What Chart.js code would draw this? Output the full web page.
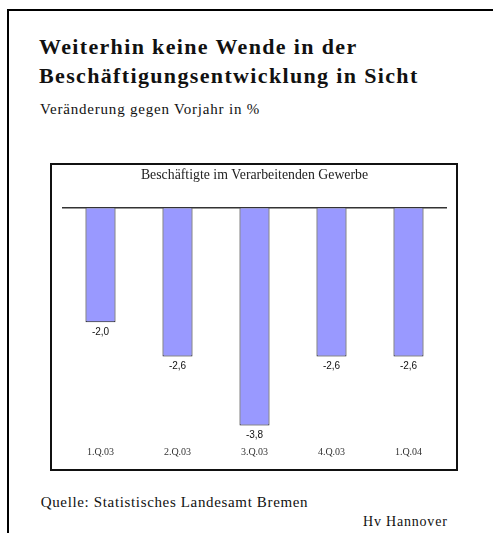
<!DOCTYPE html>
<html>
<head>
<meta charset="utf-8">
<script src="https://cdn.jsdelivr.net/npm/chart.js@4/dist/chart.umd.min.js"></script>
<style>
  html, body { margin: 0; padding: 0; background: #fff; }
  body { width: 494px; height: 533px; position: relative; overflow: hidden; font-family: 'Liberation Serif', 'Times New Roman', serif; color: #111; }
  .frame-top { position: absolute; left: 7px; top: 9px; width: 486px; height: 2px; background: #000; }
  .frame-left { position: absolute; left: 7px; top: 9px; width: 2px; height: 524px; background: #000; }
  .t { position: absolute; white-space: nowrap; }
  #title { left: 39px; top: 31.8px; font-size: 22px; font-weight: bold; line-height: 29.5px; letter-spacing: 1.35px; }
  #sub { left: 40px; top: 102.4px; font-size: 15px; line-height: 1; letter-spacing: 0.8px; }
  #src { left: 40.7px; top: 495.4px; font-size: 15px; line-height: 1; letter-spacing: 0.65px; }
  #hv { left: 363px; top: 515.3px; font-size: 14px; line-height: 1; letter-spacing: 0.8px; }
  #box { position: absolute; left: 50px; top: 163px; width: 404px; height: 304px; border: 2px solid #111; }
  #wrap { position: absolute; left: 52px; top: 165px; width: 404px; height: 304px; }
</style>
</head>
<body>
<div class="frame-top"></div>
<div class="frame-left"></div>
<div id="title" class="t">Weiterhin keine Wende in der<br>Beschäftigungsentwicklung in Sicht</div>
<div id="sub" class="t">Veränderung gegen Vorjahr in %</div>
<div id="box"></div>
<div id="wrap"><canvas id="c" width="404" height="304"></canvas></div>
<div id="src" class="t">Quelle: Statistisches Landesamt Bremen</div>
<div id="hv" class="t">Hv Hannover</div>
<script>
const categories = ['1.Q.03', '2.Q.03', '3.Q.03', '4.Q.03', '1.Q.04'];
const values = [-2.0, -2.6, -3.8, -2.6, -2.6];
const chartTitle = 'Beschäftigte im Verarbeitenden Gewerbe';

const valueLabels = {
  id: 'valueLabels',
  afterDatasetsDraw(chart) {
    const ctx = chart.ctx;
    const meta = chart.getDatasetMeta(0);
    ctx.save();
    ctx.font = '10px "Liberation Sans", Arial, sans-serif';
    ctx.fillStyle = '#111';
    ctx.textAlign = 'center';
    ctx.textBaseline = 'middle';
    meta.data.forEach((bar, i) => {
      const v = chart.data.datasets[0].data[i];
      ctx.fillText(v.toFixed(1).replace('.', ','), bar.x, bar.y + 10);
    });
    ctx.restore();
  }
};

new Chart(document.getElementById('c'), {
  type: 'bar',
  data: {
    labels: categories,
    datasets: [{
      data: values,
      backgroundColor: '#9999ff',
      borderColor: '#111',
      borderWidth: 1,
      barPercentage: 0.39,
      categoryPercentage: 1
    }]
  },
  options: {
    responsive: false,
    animation: false,
    devicePixelRatio: 1,
    layout: { padding: { left: 10, right: 9, top: 0, bottom: 7 } },
    plugins: {
      legend: { display: false },
      tooltip: { enabled: false },
      title: {
        display: true,
        text: chartTitle,
        color: '#222',
        font: { family: 'Liberation Serif', size: 13.8, weight: 'normal' },
        padding: { top: 2.5, bottom: 23.5 }
      }
    },
    scales: {
      x: {
        grid: { display: false },
        border: { display: false },
        ticks: { color: '#333', font: { family: 'Liberation Serif', size: 10 }, padding: 4, maxRotation: 0 }
      },
      y: {
        min: -3.95,
        max: 0,
        ticks: { display: false },
        border: { display: false },
        grid: {
          drawTicks: false,
          lineWidth: 1.5,
          color: (c) => (c.tick && c.tick.value === 0 ? '#333' : 'rgba(0,0,0,0)')
        }
      }
    }
  },
  plugins: [valueLabels]
});
</script>
</body>
</html>
